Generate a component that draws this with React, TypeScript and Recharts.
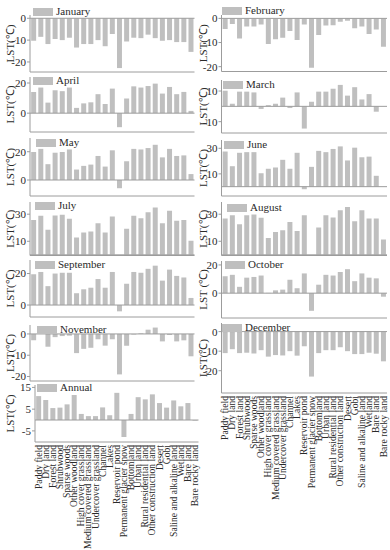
import React from 'react';
import { BarChart, Bar, XAxis, YAxis, ReferenceLine } from 'recharts';

const categories = [
  'Paddy field', 'Dry land', 'Forest land', 'Shrubwood', 'Sparse woods', 'Other woodland',
  'High cover grassland', 'Medium covered grassland', 'Undercover grassland', 'Channel', 'Lakes',
  'Reservoir pond', 'Permanent glacier snow', 'Bottomland', 'Urban land', 'Rural residential land',
  'Other construction land', 'Desert', 'Gobi', 'Saline and alkaline land', 'Wetland', 'Bare land', 'Bare rocky land',
];

const janValues = [-10.3, -8.5, -11.8, -9.5, -10, -8.9, -13.4, -11.8, -11.8, -10, -12.8, -7.2, -22.8, -10.6, -8.9, -9.1, -7.5, -9.1, -10.3, -10, -10.9, -10.9, -15.4];
const febValues = [-4.4, -2.3, -8.3, -3.4, -3.4, -2.5, -10.6, -8.6, -8, -5.2, -9, -2.5, -20.4, -6.9, -3, -2.8, -1.4, -1, -4.1, -3.4, -6.5, -4.6, -11.7];
const marValues = [10.2, 1.7, 9.6, 9.6, 9.1, -1.7, 0.8, 1.7, 5.7, -1.1, 9.1, -14.5, 3, 9.6, 9.6, 11.5, 14, 7, 12.5, 4.5, 8, -3.5, null];
const aprValues = [14.1, 17, 7, 15.2, 14.6, 17, 3.5, 6.5, 7.2, 12.6, 6.1, 16.3, -9.3, 9.8, 17.8, 17, 18, 19.6, 13, 17.4, 12.6, 14.1, 1.5];
const mayValues = [19.8, 22, 11.2, 19.3, 19.8, 21.6, 7.4, 10, 10.9, 17, 9.5, 21, -5.8, 13.3, 22, 21.6, 22.6, 24.9, 16, 22, 17, 17.4, 4.2];
const junValues = [27.5, 16, 26.5, 27, 27, 10.5, 14, 15, 21, 14, 26.5, -2, 15.5, 28, 27, 29.5, 31.5, 20.5, 30.5, 23, 23.5, 8.5, null];
const julValues = [25.8, 28.8, 18.5, 29, 29.5, 26.6, 12.8, 16.5, 17.2, 23.3, 16.5, 28.3, 0, 19.2, 28.8, 27, 31.4, 34.9, 23.3, 32.5, 25.1, 25.8, 10.3];
const augValues = [26.8, 29.3, 22.6, 29.3, 29.8, 27.3, 12.5, 16.9, 18.1, 24.3, 17.6, 29.3, 0, 20.1, 29.3, 27.5, 33, 35.4, 24.8, 33, 26.8, 26.8, 11.3];
const sepValues = [19.5, 21, 12, 20, 20.5, 20.5, 7.5, 10, 11, 16.5, 11, 21, -4, 13.5, 21, 20.5, 23, 25, 15.5, 22.5, 18.5, 17.5, 4.5];
const octValues = [12, 13, 4.5, 11, 11.5, 12.5, 0.2, 2, 2.5, 9.5, 3.5, 14, -12.5, 6, 13, 12.5, 15, 17, 8.5, 14, 11, 10.5, -2.5];
const novValues = [-3, 0.5, -6, -1.5, -1, -0.8, -9, -7, -6.5, -2.5, -5.5, -2.5, -19, -5.5, -0.3, 0.3, 2, 3, -3.5, -0.5, -3.5, -3, -10.5];
const decValues = [-11, -9, -11, -10.8, -11.2, -9.5, -12.8, -12, -12.2, -10, -12.3, -7.5, -23, -11, -9.5, -9.5, -8, -10, -11.5, -11.5, -10.8, -11.3, -15.2];
const annValues = [11, 9.2, 5.5, 5.7, 7.2, 11.5, 2.8, 1.8, 1.8, 5.8, 2.2, 12.5, -7.8, 2.8, 10.5, 9.5, 11.8, 7.8, 5.7, 9, 6.3, 7.8, -0.3];

const data = categories.map((name, i) => ({
  name,
  jan: janValues[i], feb: febValues[i], mar: marValues[i], apr: aprValues[i],
  may: mayValues[i], jun: junValues[i], jul: julValues[i], aug: augValues[i],
  sep: sepValues[i], oct: octValues[i], nov: novValues[i], dec: decValues[i], ann: annValues[i],
}));

const FONT = '"Liberation Serif", "Times New Roman", serif';
const BAR = '#bfbfbf';
const AXIS = '#9c9c9c';
const TEXT = '#2a2a2a';

const CatTick = (props: any) => {
  const { x, y, payload } = props;
  const yy = y + 1;
  return (
    <text x={x} y={yy} transform={`rotate(-90 ${x} ${yy})`} textAnchor="end" dy="0.33em"
      fontSize={9.6} fontFamily={FONT} fill={TEXT}>{payload.value}</text>
  );
};

type PanelProps = {
  title: string; dataKey: string; colLeft: number; x0: number; x1: number;
  yTop: number; yBot: number; domain: [number, number]; ticks: number[];
  legendX: number; legendY: number; titleX: number; yLabel?: string; showLabels?: boolean;
};

function Panel(p: PanelProps) {
  const padTop = 10;
  const plotH = p.yBot - p.yTop;
  const xAxisH = p.showLabels ? 550 - p.yBot : 1;
  const bottomM = p.showLabels ? 0 : 3;
  const chartH = padTop + plotH + xAxisH + bottomM;
  const chartW = p.x1 - p.colLeft + 3;
  const top = p.yTop - padTop;
  const cy = padTop + plotH / 2;
  const tx = p.titleX - p.colLeft;
  const TitleLabel = () => (
    <text x={tx} y={cy} transform={`rotate(-90 ${tx} ${cy})`} textAnchor="middle" dy="0.35em"
      fontSize={11} fontFamily={FONT} fill={TEXT}>{p.yLabel || 'LST(℃)'}</text>
  );
  return (
    <div style={{ position: 'absolute', left: p.colLeft, top }}>
      <BarChart width={chartW} height={chartH} data={data}
        margin={{ top: padTop, right: 3, bottom: bottomM, left: 0 }} barCategoryGap="16%">
        <XAxis dataKey="name" interval={0} height={xAxisH} axisLine={{ stroke: AXIS }} tickLine={false}
          tickSize={0} tickMargin={2} tick={p.showLabels ? <CatTick /> : false} />
        <YAxis type="number" width={p.x0 - p.colLeft} domain={p.domain} ticks={p.ticks} allowDataOverflow
          axisLine={{ stroke: AXIS }} tickLine={{ stroke: AXIS }} tickSize={3} tickMargin={1}
          tick={{ fontSize: 11, fill: TEXT, fontFamily: FONT }}
          label={{ content: TitleLabel as any }} />
        <ReferenceLine y={0} stroke={AXIS} strokeWidth={1} />
        <Bar dataKey={p.dataKey} fill={BAR} isAnimationActive={false} />
      </BarChart>
      <div style={{
        position: 'absolute', left: p.legendX - p.colLeft, top: p.legendY - top,
        display: 'flex', alignItems: 'center', fontFamily: FONT, fontSize: 11, color: TEXT, lineHeight: '9px',
      }}>
        <span style={{ display: 'inline-block', width: 20, height: 8, background: BAR, marginRight: 3 }} />
        <span>{p.title}</span>
      </div>
    </div>
  );
}

const L = { colLeft: 0, x0: 30, x1: 194.5, titleX: 10 };
const R = { colLeft: 195, x0: 221.5, x1: 387, titleX: 203 };

export default function App() {
  return (
    <div style={{ position: 'absolute', left: 0, top: 0, width: 390, height: 550, background: '#fff', overflow: 'hidden' }}>
      <Panel {...L} title="January" dataKey="jan" yTop={15} yBot={72} domain={[-24.6, 1.5]} ticks={[-20, -10, 0]} legendX={33} legendY={7} />
      <Panel {...L} title="April" dataKey="apr" yTop={77} yBot={132} domain={[-12.5, 24]} ticks={[-10, 0, 10, 20]} legendX={33} legendY={76} />
      <Panel {...L} title="May" dataKey="may" yTop={138} yBot={196} domain={[-11.3, 29.7]} ticks={[-10, 0, 10, 20]} legendX={36} legendY={138} />
      <Panel {...L} title="July" dataKey="jul" yTop={201.5} yBot={255} domain={[-0.5, 39]} ticks={[0, 10, 20, 30]} legendX={35} legendY={201} />
      <Panel {...L} title="September" dataKey="sep" yTop={260} yBot={317} domain={[-7.6, 28.6]} ticks={[0, 10, 20]} legendX={35} legendY={260} />
      <Panel {...L} title="November" dataKey="nov" yTop={325} yBot={381} domain={[-22.1, 4.2]} ticks={[-20, -10, 0]} legendX={37} legendY={325} />
      <Panel {...L} x0={35} x1={198.5} title="Annual" dataKey="ann" yTop={385} yBot={442} domain={[-10.1, 16.1]} ticks={[-10, -5, 0, 5, 10, 15]} legendX={37} legendY={383} showLabels />

      <Panel {...R} title="February" dataKey="feb" yTop={15} yBot={71.5} domain={[-22, 1.4]} ticks={[-20, -10, 0]} legendX={222} legendY={6} />
      <Panel {...R} title="March" dataKey="mar" yTop={80} yBot={133} domain={[-17.4, 17.2]} ticks={[-10, 0, 10]} legendX={223} legendY={80} />
      <Panel {...R} title="June" dataKey="jun" yTop={140} yBot={196} domain={[-7.3, 36.5]} ticks={[0, 10, 20, 30]} legendX={224} legendY={140} />
      <Panel {...R} title="August" dataKey="aug" yTop={201.5} yBot={255} domain={[-0.5, 39]} ticks={[0, 10, 20, 30]} legendX={227} legendY={203} />
      <Panel {...R} title="October" dataKey="oct" yTop={261} yBot={318} domain={[-17.6, 22.8]} ticks={[-10, 0, 10, 20]} legendX={225} legendY={260} yLabel="LST (℃)" />
      <Panel {...R} title="December" dataKey="dec" yTop={323} yBot={393} domain={[-31.4, 4.4]} ticks={[-20, -10, 0]} legendX={222} legendY={323} showLabels />
    </div>
  );
}
